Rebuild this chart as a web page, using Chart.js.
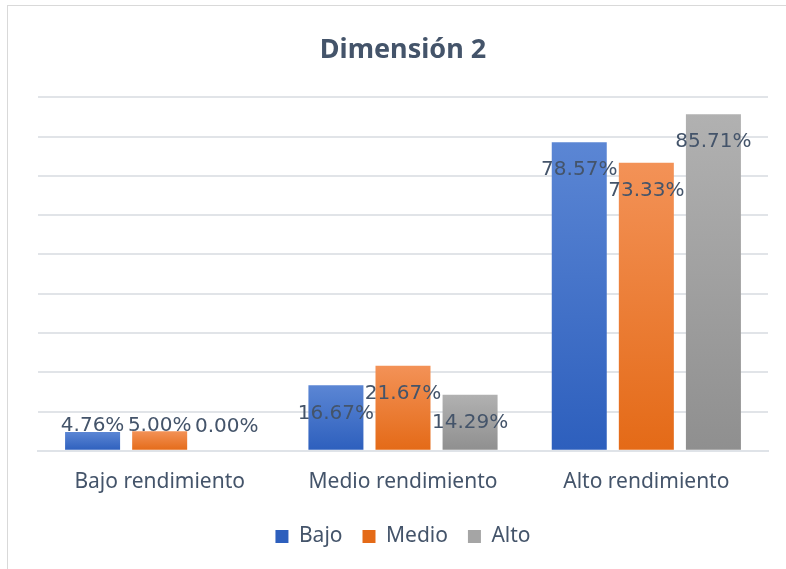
<!DOCTYPE html>
<html>
<head>
<meta charset="utf-8">
<script src="https://cdn.jsdelivr.net/npm/chart.js@4"></script>
<style>
  html, body { margin: 0; padding: 0; background: #fff; overflow: hidden; }
  #marco { position: absolute; left: 7px; top: 5px; width: 800px; height: 600px; border: 1px solid #d9d9d9; }
  #grafico { position: absolute; left: 0; top: 0; }
</style>
</head>
<body>
<div id="marco"></div>
<canvas id="grafico" width="786" height="569"></canvas>
<script>
const categorias = ['Bajo rendimiento', 'Medio rendimiento', 'Alto rendimiento'];
const bajo = [4.76, 16.67, 78.57];
const medio = [5.00, 21.67, 73.33];
const alto = [0.00, 14.29, 85.71];

const colorTexto = '#44546a';

// degradado por barra, como en Excel
function degradado(arriba, abajo, plano) {
    return ctx => {
        const chart = ctx.chart;
        if (!chart.chartArea || ctx.type !== 'data') return plano;
        const y = chart.scales.y;
        const top = y.getPixelForValue(ctx.raw);
        const base = y.getPixelForValue(0);
        if (base - top < 1) return plano;
        const g = chart.ctx.createLinearGradient(0, top, 0, base);
        g.addColorStop(0, arriba);
        g.addColorStop(1, abajo);
        return g;
    };
}

const etiquetas = {
    id: 'etiquetas',
    afterDatasetsDraw(chart) {
        const c = chart.ctx;
        c.save();
        c.font = '20px "DejaVu Sans"';
        c.fillStyle = colorTexto;
        c.textAlign = 'center';
        c.textBaseline = 'middle';
        chart.data.datasets.forEach((ds, i) => {
            chart.getDatasetMeta(i).data.forEach((bar, j) => {
                const y = Math.min(bar.y + 28, bar.base - 24);
                c.fillText(ds.data[j].toFixed(2) + '%', bar.x, y);
            });
        });
        c.restore();
    }
};

new Chart(document.getElementById('grafico'), {
    type: 'bar',
    data: {
        labels: categorias,
        datasets: [
            { label: 'Bajo', data: bajo, backgroundColor: degradado('#5b86d4', '#2d5fbd', '#4472c4') },
            { label: 'Medio', data: medio, backgroundColor: degradado('#f39257', '#e46a17', '#ed7d31') },
            { label: 'Alto', data: alto, backgroundColor: degradado('#b1b1b1', '#8f8f8f', '#a5a5a5') }
        ]
    },
    options: {
        responsive: false,
        animation: false,
        layout: { padding: { left: 38, right: 18, top: 9, bottom: 12 } },
        datasets: { bar: { categoryPercentage: 0.827, barPercentage: 0.82 } },
        scales: {
            x: {
                grid: { display: false },
                border: { color: '#dfe3e8', width: 2 },
                ticks: { color: colorTexto, font: { family: 'Noto Sans', size: 21 }, padding: 11 }
            },
            y: {
                min: 0,
                max: 90,
                ticks: { display: false, stepSize: 10 },
                border: { display: false },
                grid: { color: '#e1e4e8', lineWidth: 2, drawTicks: false }
            }
        },
        plugins: {
            title: {
                display: true,
                text: 'Dimensión 2',
                color: colorTexto,
                font: { family: 'Noto Sans', size: 27, weight: 'bold' },
                padding: { top: 25, bottom: 31 }
            },
            legend: {
                position: 'bottom',
                labels: {
                    color: colorTexto,
                    font: { family: 'Noto Sans', size: 21 },
                    boxWidth: 13,
                    boxHeight: 13,
                    padding: 20
                }
            },
            tooltip: { enabled: false }
        }
    },
    plugins: [etiquetas]
});
</script>
</body>
</html>
